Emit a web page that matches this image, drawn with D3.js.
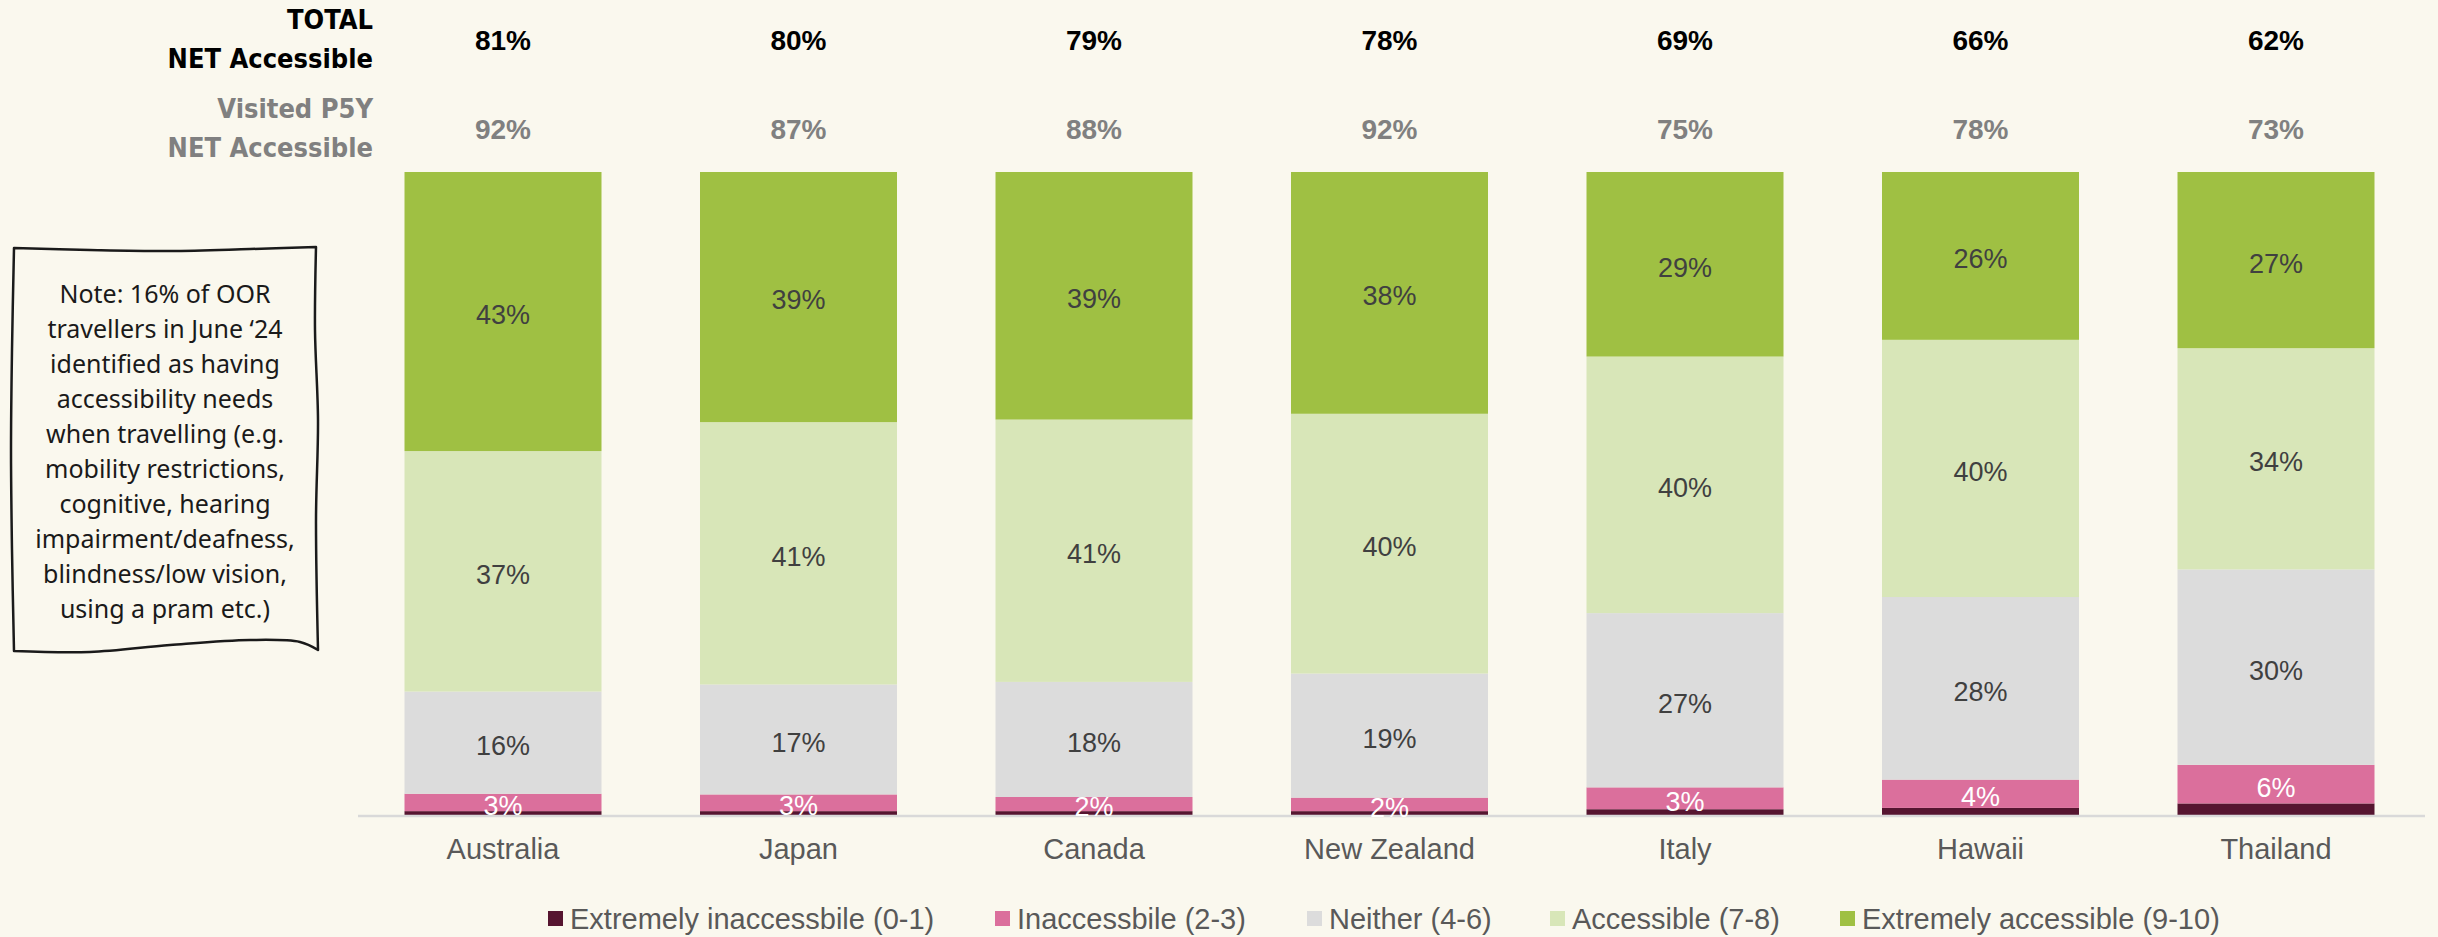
<!DOCTYPE html>
<html>
<head>
<meta charset="utf-8">
<script src="https://cdn.jsdelivr.net/npm/d3@7"></script>
<style>
  html, body { margin: 0; padding: 0; background: #faf8ee; }
  svg { display: block; }
</style>
</head>
<body>
<svg id="chart" width="2438" height="937"></svg>
<script>
// data
const categories = ['Australia', 'Japan', 'Canada', 'New Zealand', 'Italy', 'Hawaii', 'Thailand'];
const totalNet = ['81%', '80%', '79%', '78%', '69%', '66%', '62%'];
const visitedNet = ['92%', '87%', '88%', '92%', '75%', '78%', '73%'];

const seriesNames = ['Extremely inaccessbile (0-1)', 'Inaccessbile (2-3)', 'Neither (4-6)', 'Accessible (7-8)', 'Extremely accessible (9-10)'];
const extremelyInacc = [0.6, 0.6, 0.6, 0.6, 0.9, 1.1, 1.8];
const inacc = [2.7, 2.6, 2.2, 2.1, 3.4, 4.4, 6.0];
const neither = [15.9, 17.1, 17.9, 19.3, 27.1, 28.4, 30.4];
const accessible = [37.4, 40.8, 40.8, 40.4, 39.9, 40.0, 34.4];
const extremelyAcc = [43.4, 38.9, 38.5, 37.6, 28.7, 26.1, 27.4];

const colors = ['#561530', '#db6f9c', '#dcdcdc', '#d8e6b8', '#9fc043'];
const labelColors = [null, '#ffffff', '#404040', '#404040', '#404040'];

const noteLines = ['Note: 16% of OOR', 'travellers in June \u201824', 'identified as having',
  'accessibility needs', 'when travelling (e.g.', 'mobility restrictions,', 'cognitive, hearing',
  'impairment/deafness,', 'blindness/low vision,', 'using a pram etc.)'];

const rows = categories.map((c, i) => ({
  cat: c,
  s0: extremelyInacc[i], s1: inacc[i], s2: neither[i], s3: accessible[i], s4: extremelyAcc[i]
}));
const keys = ['s0', 's1', 's2', 's3', 's4'];

const svg = d3.select('#chart');
const baseY = 815;
const topY = 172;

const x = d3.scaleBand()
  .domain(categories)
  .range([355.25, 355.25 + 7 * 295.5])
  .paddingInner(1 / 3)
  .paddingOuter(1 / 6);

const y = d3.scaleLinear().domain([0, 100]).range([baseY, topY]);

const stacked = d3.stack().keys(keys)(rows);

//柱子
const layers = svg.append('g').selectAll('g.layer')
  .data(stacked)
  .join('g')
  .attr('class', 'layer')
  .attr('fill', (d, i) => colors[i]);

layers.selectAll('rect')
  .data(d => d)
  .join('rect')
  .attr('x', d => x(d.data.cat))
  .attr('y', d => y(d[1]))
  .attr('width', x.bandwidth())
  .attr('height', d => y(d[0]) - y(d[1]));

// axis line
svg.append('path')
  .attr('d', d3.line()([[358, baseY + 1], [2425, baseY + 1]]))
  .attr('stroke', '#d9d9d9')
  .attr('stroke-width', 2.5);

// segment labels
stacked.forEach((layer, li) => {
  if (!labelColors[li]) return;
  svg.append('g').selectAll('text')
    .data(layer)
    .join('text')
    .attr('x', d => x(d.data.cat) + x.bandwidth() / 2)
    .attr('y', d => (y(d[0]) + y(d[1])) / 2)
    .attr('dy', '0.46em')
    .attr('text-anchor', 'middle')
    .attr('font-family', 'Liberation Sans, Arial, sans-serif')
    .attr('font-size', 27)
    .attr('fill', labelColors[li])
    .text(d => Math.round(d[1] - d[0]) + '%');
});

// category axis labels
svg.append('g').selectAll('text')
  .data(categories)
  .join('text')
  .attr('x', d => x(d) + x.bandwidth() / 2)
  .attr('y', 859)
  .attr('text-anchor', 'middle')
  .attr('font-family', 'Liberation Sans, Arial, sans-serif')
  .attr('font-size', 29)
  .attr('fill', '#595959')
  .text(d => d);

// header rows
const headFont = 'DejaVu Sans Condensed, Noto Sans, sans-serif';
const head = svg.append('g');
head.append('text').attr('x', 373).attr('y', 29).text('TOTAL')
  .attr('fill', '#000').attr('font-weight', 'bold');
head.append('text').attr('x', 373).attr('y', 68).text('NET Accessible')
  .attr('fill', '#000').attr('font-weight', 'bold');
head.append('text').attr('x', 373).attr('y', 118).text('Visited P5Y')
  .attr('fill', '#808080').attr('font-weight', 'bold');
head.append('text').attr('x', 373).attr('y', 157).text('NET Accessible')
  .attr('fill', '#808080').attr('font-weight', 'bold');
head.selectAll('text')
  .attr('text-anchor', 'end')
  .attr('font-family', headFont)
  .attr('font-size', 27);

svg.append('g').selectAll('text')
  .data(totalNet)
  .join('text')
  .attr('x', (d, i) => x(categories[i]) + x.bandwidth() / 2)
  .attr('y', 50)
  .attr('text-anchor', 'middle')
  .attr('font-family', 'Liberation Sans, Arial, sans-serif')
  .attr('font-weight', 'bold')
  .attr('font-size', 28)
  .attr('fill', '#000')
  .text(d => d);

svg.append('g').selectAll('text')
  .data(visitedNet)
  .join('text')
  .attr('x', (d, i) => x(categories[i]) + x.bandwidth() / 2)
  .attr('y', 139)
  .attr('text-anchor', 'middle')
  .attr('font-family', 'Liberation Sans, Arial, sans-serif')
  .attr('font-weight', 'bold')
  .attr('font-size', 28)
  .attr('fill', '#808080')
  .text(d => d);

// note box (hand drawn look)
const wobble = d3.line().curve(d3.curveCatmullRom);
const edges = [
  [[14, 248], [90, 250], [170, 251], [250, 249], [316, 247]],
  [[316, 247], [315, 330], [318, 420], [316, 520], [318, 650]],
  [[318, 650], [300, 642], [250, 640], [170, 645], [90, 652], [14, 651]],
  [[14, 651], [12, 550], [11, 450], [12, 350], [14, 248]]
];
const boxPath = edges.map((e, i) => {
  const p = wobble(e);
  return i === 0 ? p : 'L' + p.slice(1);
}).join('') + 'Z';

const box = svg.append('g');
box.append('path')
  .attr('d', boxPath)
  .attr('fill', '#faf8ee')
  .attr('stroke', '#1a1a1a')
  .attr('stroke-width', 2.5)
  .attr('stroke-linejoin', 'round');

box.selectAll('text')
  .data(noteLines)
  .join('text')
  .attr('x', 165)
  .attr('y', (d, i) => 303 + i * 35)
  .attr('text-anchor', 'middle')
  .attr('font-family', 'Noto Sans, sans-serif')
  .attr('font-size', 25)
  .attr('fill', '#1a1a1a')
  .text(d => d);

// legend
const legendX = [548, 995, 1307, 1550, 1840];
const legend = svg.append('g').selectAll('g')
  .data(seriesNames)
  .join('g')
  .attr('transform', (d, i) => `translate(${[legendX[i], 911]})`);
legend.append('rect')
  .attr('width', 15)
  .attr('height', 15)
  .attr('fill', (d, i) => colors[i]);
legend.append('text')
  .attr('x', 22)
  .attr('y', 8)
  .attr('dy', '0.35em')
  .attr('font-family', 'Liberation Sans, Arial, sans-serif')
  .attr('font-size', 29)
  .attr('fill', '#595959')
  .text(d => d);
</script>
</body>
</html>
